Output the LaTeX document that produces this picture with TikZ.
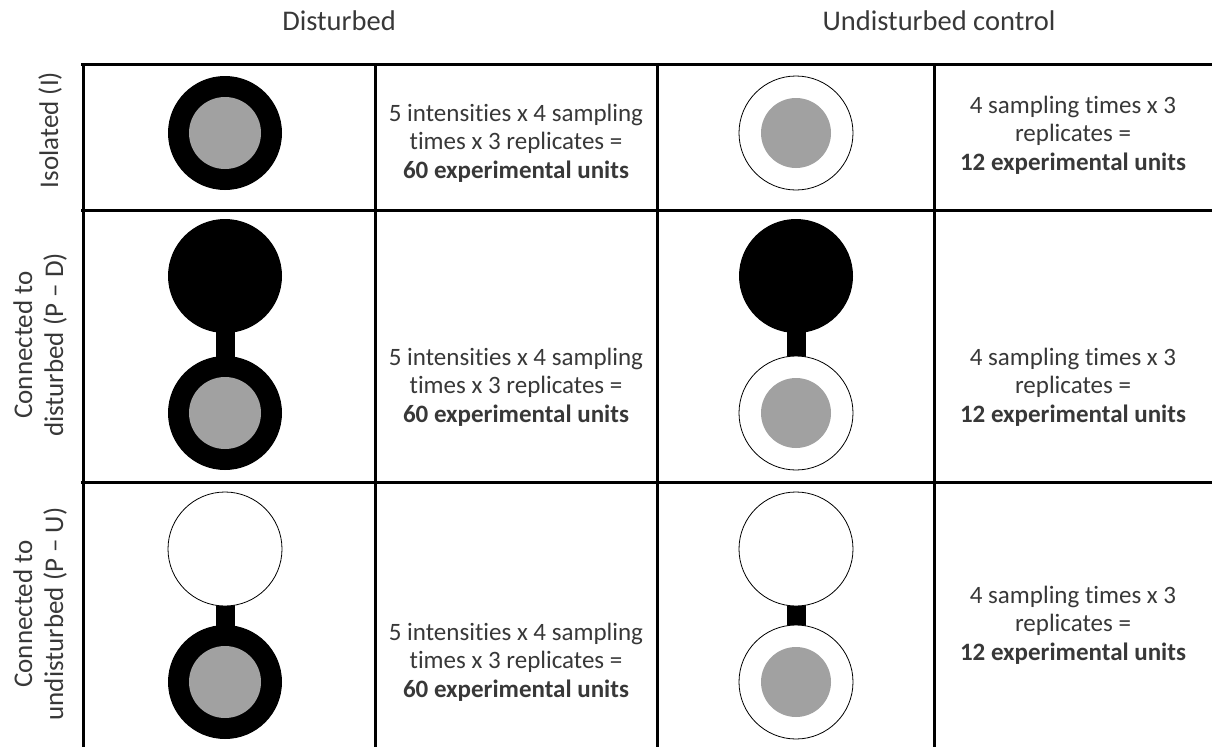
\documentclass[tikz,border=0pt]{standalone}
\usepackage{fontspec}
\setmainfont{Carlito}[Ligatures=NoCommon]
\usepackage{xcolor}
\usetikzlibrary{positioning}
\definecolor{txt}{gray}{0.22}
\definecolor{core}{gray}{0.63}
\newcommand{\dunits}{5 intensities x 4 sampling\\times x 3 replicates =\\\textbf{60 experimental units}}
\newcommand{\uunits}{4 sampling times x 3\\replicates =\\\textbf{12 experimental units}}

\begin{document}
\begin{tikzpicture}[x=1pt,y=-1pt,
	gridline/.style={line width=3pt},
	dpond/.style={fill=black},
	upond/.style={draw=black,fill=white,line width=.8pt},
	corepond/.style={fill=core},
	lab/.style={font=\fontsize{27}{31}\selectfont,text=txt,align=center,rotate=90},
	head/.style={font=\fontsize{28.5}{31}\selectfont,text=txt,anchor=base},
	cell/.style={font=\fontsize{25}{28.5}\selectfont,text=txt,align=center}]
%   | D-pond | 60 units | U-pond | 12 units |
%   I:   single pond
%   P-D: black pond linked above
%   P-U: white pond linked above

	\useasboundingbox (0,0) rectangle (1212,747);

	\coordinate (D1) at (225,133); \coordinate (U1) at (796,133);
	\coordinate (D2t) at (225,276); \coordinate (D2) at (225,413);
	\coordinate (U2t) at (796,276); \coordinate (U2) at (796,413);
	\coordinate (D3t) at (225,549); \coordinate (D3) at (225,682);
	\coordinate (U3t) at (796,549); \coordinate (U3) at (796,682);

	% grid
	\draw[gridline] (81,64)--(1212,64) (81,210)--(1212,210) (81,482)--(1212,482);
	\draw[gridline] (83,64)--(83,747) (375,64)--(375,747) (657,64)--(657,747) (934,64)--(934,747);

	% links
	\fill ([xshift=-9.5pt]D2t) rectangle ([xshift=9.5pt]D2);
	\fill ([xshift=-9.5pt]U2t) rectangle ([xshift=9.5pt]U2);
	\fill ([xshift=-9.5pt]D3t) rectangle ([xshift=9.5pt]D3);
	\fill ([xshift=-9.5pt]U3t) rectangle ([xshift=9.5pt]U3);

	% ponds
	\fill[dpond] (D1) circle (57);   \fill[corepond] (D1) circle (36);
	\draw[upond] (U1) circle (57);   \fill[corepond] (U1) circle (35);
	\fill[dpond] (D2t) circle (57);
	\fill[dpond] (D2) circle (57);   \fill[corepond] (D2) circle (36);
	\fill[dpond] (U2t) circle (57);
	\draw[upond] (U2) circle (57);   \fill[corepond] (U2) circle (35);
	\draw[upond] (D3t) circle (57);
	\fill[dpond] (D3) circle (57);   \fill[corepond] (D3) circle (36);
	\draw[upond] (U3t) circle (57);
	\draw[upond] (U3) circle (57);   \fill[corepond] (U3) circle (35);

	% headers and row labels
	\node[head] (hdist) at (339,30) {Disturbed};
	\node[head] (hund) at (939,30) {Undisturbed control};
	\node[lab] (lbI) at (50,130) {Isolated (I)};
	\node[lab] (lbPD) at (40,345) {Connected to\\disturbed (P – D)};
	\node[lab] (lbPU) at (40,614) {Connected to\\undisturbed (P – U)};

	% cells
	\node[cell] (cD1) at (516,143) {\dunits};
	\node[cell] (cD2) at (516,387) {\dunits};
	\node[cell] (cD3) at (516,662) {\dunits};
	\node[cell] (cU1) at (1073,135) {\uunits};
	\node[cell] (cU2) at (1073,387) {\uunits};
	\node[cell] (cU3) at (1073,625) {\uunits};
\end{tikzpicture}
\end{document}
